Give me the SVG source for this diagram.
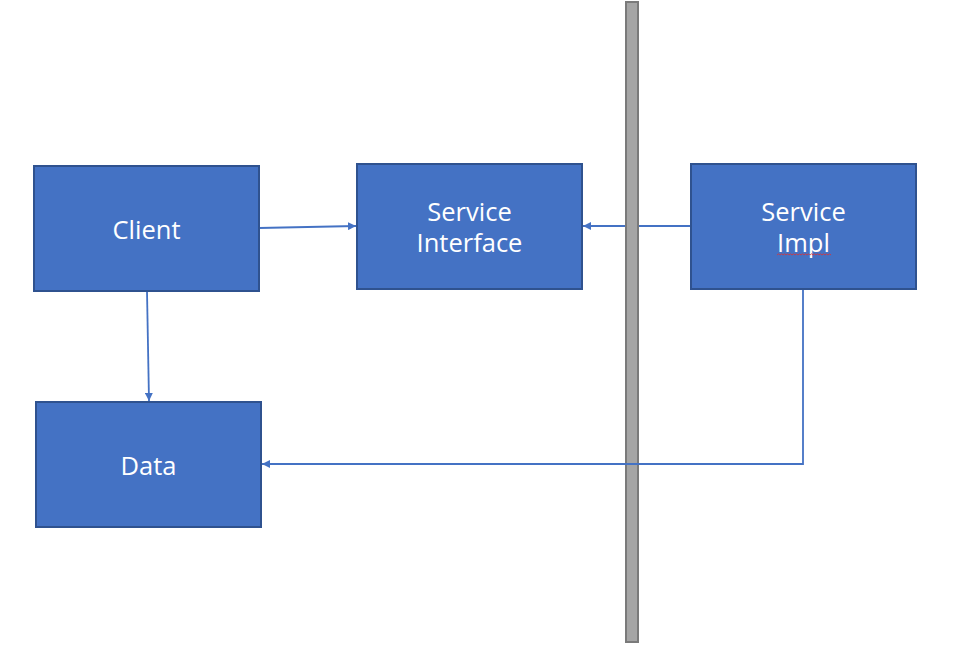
<svg xmlns="http://www.w3.org/2000/svg" width="953" height="669" viewBox="0 0 953 669">
  <style>
    .box { fill: #4472c4; stroke: #2f528f; stroke-width: 2; }
    .label { font-family: "Open Sans", "Noto Sans", "Liberation Sans", sans-serif; font-size: 25.5px; fill: #ffffff; text-anchor: middle; }
    .conn { fill: none; stroke: #4472c4; stroke-width: 1.8; }
    .divider { fill: #a5a5a5; stroke: #7a7a7a; stroke-width: 2; }
  </style>
  <defs>
    <marker id="arrow" viewBox="0 0 10 10" refX="10" refY="5" markerWidth="8" markerHeight="8" markerUnits="userSpaceOnUse" orient="auto">
      <path d="M0,0 L10,5 L0,10 z" fill="#4472c4"/>
    </marker>
  </defs>
  <rect width="953" height="669" fill="#ffffff"/>

  <!-- vertical divider bar -->
  <rect id="divider" class="divider" x="626" y="2" width="12" height="640"/>

  <g id="connectors">
    <!-- Client -> Service Interface -->
    <path class="conn" d="M259,228 L356,226" marker-end="url(#arrow)"/>
    <!-- Client -> Data -->
    <path class="conn" d="M147,291 L149,401" marker-end="url(#arrow)"/>
    <!-- Service Impl -> Service Interface (passes behind the divider) -->
    <path class="conn" d="M691,226 H639 M625,226 H583" marker-end="url(#arrow)"/>
    <!-- Service Impl -> Data -->
    <path class="conn" d="M803,289 V464 H262" marker-end="url(#arrow)"/>
  </g>

  <g id="client">
    <rect class="box" x="34" y="166" width="225" height="125"/>
    <text class="label" x="146.5" y="239">Client</text>
  </g>

  <g id="service-interface">
    <rect class="box" x="357" y="164" width="225" height="125"/>
    <text class="label" x="469.5" y="221">Service</text>
    <text class="label" x="469.5" y="252">Interface</text>
  </g>

  <g id="service-impl">
    <rect class="box" x="691" y="164" width="225" height="125"/>
    <text class="label" x="803.5" y="221">Service</text>
    <text class="label" x="803.5" y="252">Impl</text>
    <!-- spell-check squiggle -->
    <path d="M777,255 l1.5,-1.2 l1.5,1.2 l1.5,-1.2 l1.5,1.2 l1.5,-1.2 l1.5,1.2 l1.5,-1.2 l1.5,1.2 l1.5,-1.2 l1.5,1.2 l1.5,-1.2 l1.5,1.2 l1.5,-1.2 l1.5,1.2 l1.5,-1.2 l1.5,1.2 l1.5,-1.2 l1.5,1.2 l1.5,-1.2 l1.5,1.2 l1.5,-1.2 l1.5,1.2 l1.5,-1.2 l1.5,1.2 l1.5,-1.2 l1.5,1.2 l1.5,-1.2 l1.5,1.2 l1.5,-1.2 l1.5,1.2 l1.5,-1.2 l1.5,1.2 l1.5,-1.2 l1.5,1.2 l1.5,-1.2 l1.5,1.2" fill="none" stroke="#e03030" stroke-width="0.8"/>
  </g>

  <g id="data">
    <rect class="box" x="36" y="402" width="225" height="125"/>
    <text class="label" x="148.5" y="475">Data</text>
  </g>
</svg>
